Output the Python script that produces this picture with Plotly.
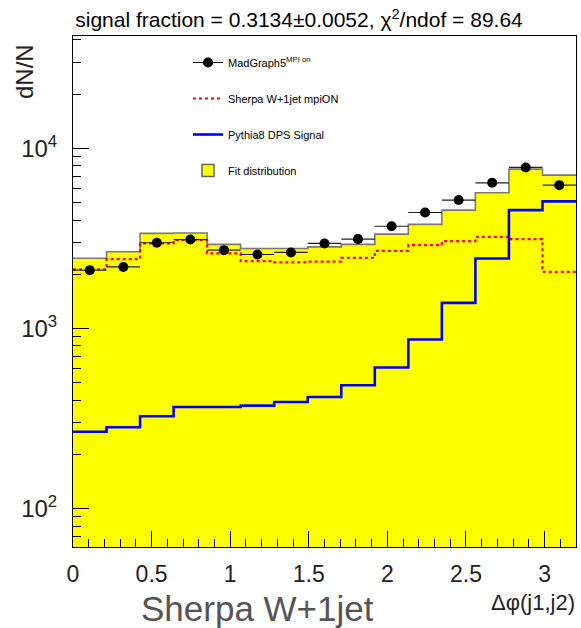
import plotly.graph_objects as go

# Binning: 15 equal bins of delta-phi between the two leading jets
x_min, x_max, n_bins = 0.0, 3.2, 15

# Normalised event counts per bin
madgraph = [2109, 2197, 2993, 3118, 2723, 2576, 2644, 2966, 3136, 3697, 4406, 5166, 6440, 7840, 6250]
sherpa_mpi = [2128, 2427, 2966, 3097, 2611, 2365, 2328, 2350, 2466, 2698, 2905, 3055, 3227, 3136, 2061]
pythia_dps = [267, 283, 326, 367, 367, 373, 391, 417, 484, 607, 869, 1387, 2448, 4542, 5082]
fit_total = [2455, 2667, 3373, 3390, 2930, 2783, 2783, 2838, 2930, 3342, 3785, 4542, 5667, 7675, 7107]

y_tick_vals = [100, 1000, 10000]
y_tick_text = ["10<sup>2</sup>", "10<sup>3</sup>", "10<sup>4</sup>"]

width = (x_max - x_min) / n_bins
edges = [x_min + i * width for i in range(n_bins + 1)]
centers = [x_min + (i + 0.5) * width for i in range(n_bins)]


def step(values):
    return edges, list(values) + [values[-1]]


FONT = "Liberation Sans, Arial, Helvetica, sans-serif"
fig = go.Figure()

# filled fit histogram
fig.add_trace(go.Bar(x=centers, y=fit_total, width=width,
                     marker=dict(color="#ffff00", line=dict(width=0)),
                     showlegend=False, hoverinfo="skip"))
sx, sy = step(fit_total)
fig.add_trace(go.Scatter(x=sx, y=sy, mode="lines", line=dict(color="#7a7a70", width=1.6, shape="hv"),
                         showlegend=False))

# Sherpa template
sx, sy = step(sherpa_mpi)
fig.add_trace(go.Scatter(x=sx, y=sy, mode="lines", line=dict(color="#ff0000", width=2.2, dash="dot", shape="hv"),
                         name="Sherpa W+1jet mpiON", legendrank=2, legendgroup="b"))

# Pythia DPS signal template
sx, sy = step(pythia_dps)
fig.add_trace(go.Scatter(x=sx, y=sy, mode="lines", line=dict(color="#0000ff", width=2.6, shape="hv"),
                         name="Pythia8 DPS Signal", legendrank=3, legendgroup="c"))

# MadGraph points
fig.add_trace(go.Scatter(x=centers, y=madgraph, mode="markers",
                         marker=dict(color="black", size=10),
                         error_x=dict(type="constant", value=width / 2, color="#202020", thickness=1.2, width=0),
                         showlegend=False))

# legend entries
fig.add_trace(go.Scatter(x=[None], y=[None], mode="lines+markers",
                         line=dict(color="black", width=1), marker=dict(color="black", size=10),
                         name="MadGraph5<sup>MPI on</sup>", legendrank=1, legendgroup="a"))
fig.add_trace(go.Bar(x=[None], y=[None], marker=dict(color="#ffff00", line=dict(color="#666666", width=1.5)),
                     name="Fit distribution", legendrank=4, legendgroup="d"))

fig.update_layout(
    width=581, height=628,
    margin=dict(l=73, r=5, t=36, b=81),
    paper_bgcolor="white", plot_bgcolor="white",
    bargap=0, barmode="overlay",
    font=dict(family=FONT, color="black"),
    showlegend=True,
    legend=dict(x=(188 - 73) / 503, xanchor="left", y=1 - (48 - 36) / 511, yanchor="top",
                bgcolor="rgba(0,0,0,0)", font=dict(size=11, family=FONT, color="black"),
                traceorder="grouped", tracegroupgap=17, itemwidth=30),
    title=dict(text="signal fraction = 0.3134\u00b10.0052, \u03c7<sup>2</sup>/ndof = 89.64",
               x=299 / 581, xanchor="center", y=1 - 20 / 628, yanchor="middle",
               font=dict(size=21, family=FONT, color="black")),
)

fig.update_xaxes(range=[x_min, x_max], showgrid=False, zeroline=False,
                 showline=True, linecolor="black", linewidth=1, mirror=True,
                 ticks="inside", ticklen=16, tickcolor="black", dtick=0.5, tick0=0,
                 tickfont=dict(size=23, family=FONT, color="#222"),
                 ticklabelstandoff=6,
                 minor=dict(ticks="inside", ticklen=8, dtick=0.1, tickcolor="black", showgrid=False))

minor_y = [m * 10 ** e for e in range(1, 5) for m in range(2, 10) if m * 10 ** e < 45000]
fig.update_yaxes(type="log", range=[1.787, 4.624], showgrid=False, zeroline=False,
                 showline=True, linecolor="black", linewidth=1, mirror=True,
                 ticks="inside", ticklen=16, tickcolor="black",
                 tickvals=y_tick_vals, ticktext=y_tick_text,
                 tickfont=dict(size=24, family=FONT, color="#222"),
                 ticklabelstandoff=10,
                 minor=dict(ticks="inside", ticklen=8, tickvals=minor_y, tickcolor="black", showgrid=False))

fig.add_annotation(text="dN/N", xref="paper", yref="paper",
                   x=(24 - 73) / 503, y=(547 - 72) / 511, xanchor="center", yanchor="middle",
                   textangle=-90, showarrow=False, font=dict(size=24, family=FONT, color="#222"))
fig.add_annotation(text="\u0394\u03c6(j1,j2)", xref="paper", yref="paper",
                   x=(577 - 73) / 503, y=(547 - 602) / 511, xanchor="right", yanchor="middle",
                   showarrow=False, font=dict(size=22, family=FONT, color="#222"))
fig.add_annotation(text="Sherpa W+1jet", xref="paper", yref="paper",
                   x=(257 - 73) / 503, y=(547 - 608) / 511, xanchor="center", yanchor="middle",
                   showarrow=False, font=dict(size=35, family=FONT, color="#555555"))

fig.write_html("out.html")
